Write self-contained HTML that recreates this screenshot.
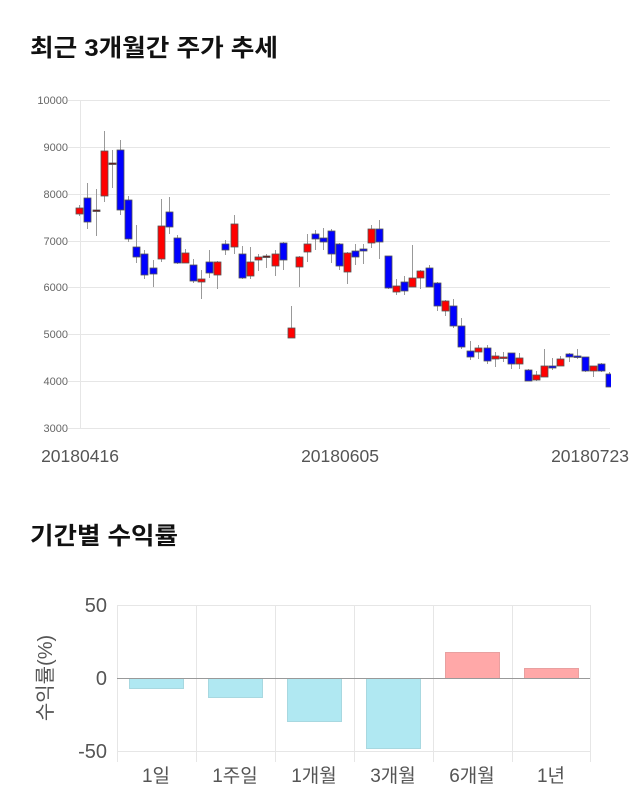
<!DOCTYPE html>
<html><head><meta charset="utf-8">
<style>
body{margin:0;background:#fff;width:640px;height:810px;overflow:hidden}
svg{display:block}
text{font-family:"Liberation Sans","Noto Sans CJK KR",sans-serif}
</style></head><body>
<svg id="s" width="640" height="810" xmlns="http://www.w3.org/2000/svg">
<text x="30" y="56" font-size="24" font-weight="bold" fill="#111" textLength="248" lengthAdjust="spacingAndGlyphs">최근 3개월간 주가 추세</text>
<g stroke="#e6e6e6" stroke-width="1">
<line x1="68" y1="100.5" x2="610" y2="100.5"/>
<line x1="68" y1="147.5" x2="610" y2="147.5"/>
<line x1="68" y1="194.5" x2="610" y2="194.5"/>
<line x1="68" y1="241.5" x2="610" y2="241.5"/>
<line x1="68" y1="287.5" x2="610" y2="287.5"/>
<line x1="68" y1="334.5" x2="610" y2="334.5"/>
<line x1="68" y1="381.5" x2="610" y2="381.5"/>
<line x1="68" y1="428.5" x2="610" y2="428.5"/>
<line x1="80.5" y1="100" x2="80.5" y2="428"/>
</g>
<g font-size="11" fill="#666" text-anchor="end">
<text x="68" y="104">10000</text><text x="68" y="151">9000</text><text x="68" y="198">8000</text>
<text x="68" y="245">7000</text><text x="68" y="291">6000</text><text x="68" y="338">5000</text>
<text x="68" y="385">4000</text><text x="68" y="432">3000</text>
</g>
<g font-size="17.5" fill="#555" text-anchor="middle">
<text x="80" y="462">20180416</text><text x="340" y="462">20180605</text><text x="590" y="462">20180723</text>
</g>
<g id="c"></g>
<text x="30" y="544" font-size="24" font-weight="bold" fill="#111" textLength="148" lengthAdjust="spacingAndGlyphs">기간별 수익률</text>
<g stroke="#e6e6e6">
<line x1="117" y1="605.5" x2="590" y2="605.5"/>
<line x1="117" y1="751.5" x2="590" y2="751.5"/>
<line x1="117.5" y1="605" x2="117.5" y2="762"/>
<line x1="196.5" y1="605" x2="196.5" y2="762"/>
<line x1="275.5" y1="605" x2="275.5" y2="762"/>
<line x1="354.5" y1="605" x2="354.5" y2="762"/>
<line x1="433.5" y1="605" x2="433.5" y2="762"/>
<line x1="512.5" y1="605" x2="512.5" y2="762"/>
<line x1="590.5" y1="605" x2="590.5" y2="762"/>
</g>
<g stroke-width="1">
<rect x="129.5" y="678.5" width="54" height="10" fill="#b0e8f2" stroke="#a8d8e0"/>
<rect x="208.5" y="678.5" width="54" height="19" fill="#b0e8f2" stroke="#a8d8e0"/>
<rect x="287.5" y="678.5" width="54" height="43" fill="#b0e8f2" stroke="#a8d8e0"/>
<rect x="366.5" y="678.5" width="54" height="70" fill="#b0e8f2" stroke="#a8d8e0"/>
<rect x="445.5" y="652.5" width="54" height="26" fill="#ffa8a8" stroke="#e8a0a0"/>
<rect x="524.5" y="668.5" width="54" height="10" fill="#ffa8a8" stroke="#e8a0a0"/>
</g>
<line x1="117" y1="678.5" x2="590" y2="678.5" stroke="#999"/>
<g font-size="20" fill="#555" text-anchor="end">
<text x="107" y="612">50</text><text x="107" y="685">0</text><text x="107" y="758">-50</text>
</g>
<text transform="translate(52,678) rotate(-90)" font-size="20" fill="#555" text-anchor="middle">수익률(%)</text>
<g font-size="19" fill="#555" text-anchor="middle">
<text x="156" y="782">1일</text><text x="235" y="782">1주일</text><text x="314" y="782">1개월</text>
<text x="393" y="782">3개월</text><text x="472" y="782">6개월</text><text x="551" y="782">1년</text>
</g>
</svg>
<script>
var d=[[79,208,214,205,216,'r'],[87,198,222,183,229,'b'],[96,210,210,189,236,'d'],[104,151,196,131,202,'r'],[112,163,163,150,188,'d'],[120,150,210,140,215,'b'],[128,200,239,196,242,'b'],[136,247,257,225,263,'b'],[144,254,275,250,279,'b'],[153,268,274,260,287,'b'],[161,226,259,199,262,'r'],[169,212,227,197,234,'b'],[177,238,263,235,264,'b'],[185,253,263,249,263,'r'],[193,265,281,259,283,'b'],[201,279,282,270,299,'r'],[209,262,273,250,278,'b'],[217,262,275,261,289,'r'],[225,244,250,240,255,'b'],[234,224,247,215,254,'r'],[242,254,278,246,279,'b'],[250,262,276,247,279,'r'],[258,257,260,254,271,'r'],[266,256,257,254,268,'d'],[275,254,266,250,276,'r'],[283,243,260,242,270,'b'],[291,328,338,306,338,'r'],[299,257,267,256,287,'r'],[307,244,252,234,262,'r'],[315,234,239,230,250,'b'],[323,238,242,228,250,'b'],[331,231,254,229,263,'b'],[339,244,266,243,270,'b'],[347,253,272,252,284,'r'],[355,251,257,244,265,'b'],[363,249,251,244,264,'b'],[371,229,243,225,248,'r'],[379,229,242,220,259,'b'],[388,256,288,256,289,'b'],[396,286,292,279,295,'r'],[404,282,291,276,295,'b'],[412,278,287,245,287,'r'],[420,271,278,270,289,'r'],[429,268,287,265,287,'b'],[437,283,306,282,311,'b'],[445,301,311,300,316,'r'],[453,306,326,299,328,'b'],[461,326,347,318,349,'b'],[470,351,357,341,360,'b'],[478,348,352,345,359,'r'],[487,348,361,345,364,'b'],[495,356,359,352,367,'r'],[503,357,358,352,362,'r'],[511,353,364,353,369,'b'],[519,358,364,353,369,'r'],[528,370,381,369,381,'b'],[536,375,380,371,381,'r'],[544,366,377,349,377,'r'],[552,366,368,358,370,'b'],[560,359,366,356,366,'r'],[569,354,357,353,362,'b'],[577,356,357,349,359,'b'],[585,357,371,357,372,'b'],[593,366,371,366,377,'r'],[601,364,371,363,372,'b'],[609,374,387,372,387,'b']];
var h='';d.forEach(function(c){var x=c[0];
h+='<line x1="'+(x+.5)+'" y1="'+c[3]+'" x2="'+(x+.5)+'" y2="'+c[4]+'" stroke="#999"/>';
var f=c[5]=='r'?'#f00':c[5]=='b'?'#00f':'#600';var hh=Math.max(c[2]-c[1],1.5);
h+='<rect x="'+(x-3)+'" y="'+c[1]+'" width="7" height="'+hh+'" fill="'+f+'" stroke="#555" stroke-width="0.8"/>';});
h='<svg x="0" y="0" width="611" height="430" overflow="hidden">'+h+'</svg>';
document.getElementById('c').innerHTML=h;
</script>
</body></html>
